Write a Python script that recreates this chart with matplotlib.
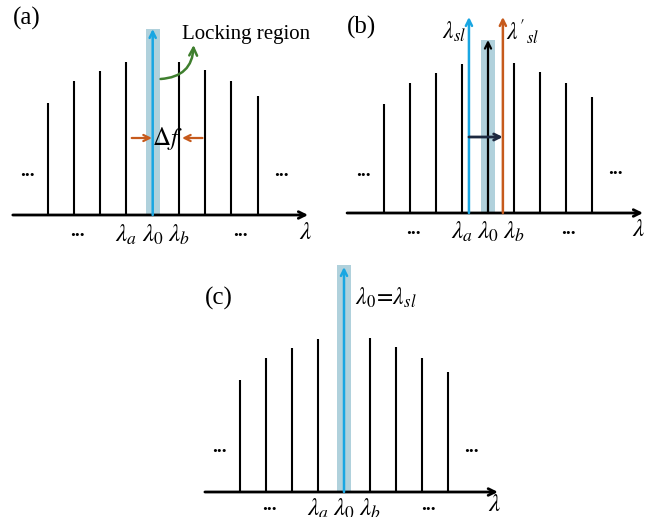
import matplotlib
matplotlib.use("Agg")
import matplotlib.pyplot as plt
from matplotlib.patches import Rectangle

plt.rcParams['font.family'] = ['Liberation Serif', 'DejaVu Serif']
plt.rcParams['mathtext.fontset'] = 'stix'

W, H = 655, 517

# ---- data (comb line index and heights, per panel) ----
comb_idx = [-4, -3, -2, -1, 1, 2, 3, 4]
heights_a = [112, 134, 144, 153, 153, 145, 134, 119]
heights_b = [109, 130, 140, 149, 150, 141, 130, 116]
heights_c = [112, 134, 144, 153, 154, 145, 134, 120]
center_height_a = 186      # blue injected line (a)
center_height_b = 173      # black slave line (b)
sl_height_b = 196          # blue / orange master lines (b)
sl_pos_b = [-0.73, 0.57]   # lambda_sl, lambda'_sl
center_height_c = 225
lock_half_width = 0.27
label_idx = [-1, 0, 1]
label_txt = [r'$\lambda_a$', r'$\lambda_0$', r'$\lambda_b$']

BLUE = '#19a6e2'
ORANGE = '#c65a1c'
GREEN = '#3f7f2e'
SHADE = '#a3c9d6'
NAVY = '#1d2940'

fig = plt.figure(figsize=(W / 100, H / 100), dpi=100)


def panel(box, center, spacing, baseline):
    x0, y0, x1, y1 = box
    ax = fig.add_axes([x0 / W, 1 - y1 / H, (x1 - x0) / W, (y1 - y0) / H])
    ax.set_xlim((x0 - center) / spacing, (x1 - center) / spacing)
    ax.set_ylim(baseline - y1, baseline - y0)
    ax.axis('off')
    return ax


def comb(ax, heights, axis_ext, dots, lab_y, lam_pos, letter, letter_pos):
    ax.annotate('', xy=(axis_ext[1], 0), xytext=(axis_ext[0], 0),
                arrowprops=dict(arrowstyle='->', lw=2.0, color='black',
                                shrinkA=0, shrinkB=0, mutation_scale=12))
    ax.vlines(comb_idx, 0, heights, color='black', lw=1.5)
    for (x, y) in dots:
        ax.text(x, y, '...', ha='center', va='center', fontsize=14,
                fontweight='bold')
    for i, t in zip(label_idx, label_txt):
        ax.text(i, lab_y, t, ha='center', va='center', fontsize=18)
    ax.text(lam_pos[0], lam_pos[1], r'$\lambda$', ha='center', va='center',
            fontsize=18)
    ax.text(letter_pos[0], letter_pos[1], letter, ha='center', va='center',
            fontsize=18)


def up_arrow(ax, x, h, color, lw=1.8):
    ax.annotate('', xy=(x, h), xytext=(x, 0),
                arrowprops=dict(arrowstyle='->', lw=lw, color=color,
                                shrinkA=0, shrinkB=0, mutation_scale=11))


# ---------------- panel (a) ----------------
axa = panel((0, 0, 327, 250), 152.7, 26.2, 215)
axa.add_patch(Rectangle((-lock_half_width, 0), 2 * lock_half_width,
                        center_height_a, color=SHADE, alpha=0.85, lw=0))
comb(axa, heights_a, (-5.34, 5.93),
     [(-4.8, 44), (4.93, 44), (-2.89, -16), (3.33, -16)],
     -20, (5.82, -18), '(a)', (-4.8, 197))
up_arrow(axa, 0, center_height_a, BLUE)
axa.text(1.12, 180, 'Locking region', ha='left', va='center', fontsize=15)
axa.annotate('', xy=(1.56, 170), xytext=(0.3, 136),
             arrowprops=dict(arrowstyle='->', lw=1.8, color=GREEN,
                             connectionstyle='arc3,rad=0.45',
                             shrinkA=0, shrinkB=0, mutation_scale=14))
axa.text(0.56, 77, r'$\Delta f$', ha='center', va='center', fontsize=18)
axa.annotate('', xy=(-0.03, 77), xytext=(-0.8, 77),
             arrowprops=dict(arrowstyle='->', lw=1.6, color=ORANGE,
                             shrinkA=0, shrinkB=0, mutation_scale=11))
axa.annotate('', xy=(1.12, 77), xytext=(1.9, 77),
             arrowprops=dict(arrowstyle='->', lw=1.6, color=ORANGE,
                             shrinkA=0, shrinkB=0, mutation_scale=11))

# ---------------- panel (b) ----------------
axb = panel((327, 0, 655, 250), 488, 26.1, 213)
axb.add_patch(Rectangle((-lock_half_width, 0), 2 * lock_half_width,
                        center_height_b, color=SHADE, alpha=0.85, lw=0))
comb(axb, heights_b, (-5.4, 5.94),
     [(-4.79, 42), (4.87, 44), (-2.87, -16), (3.07, -16)],
     -19, (5.78, -17), '(b)', (-4.83, 186))
up_arrow(axb, 0, center_height_b, 'black', lw=1.6)
up_arrow(axb, sl_pos_b[0], sl_height_b, BLUE)
up_arrow(axb, sl_pos_b[1], sl_height_b, ORANGE)
axb.annotate('', xy=(sl_pos_b[1], 76), xytext=(sl_pos_b[0], 76),
             arrowprops=dict(arrowstyle='->', lw=2.0, color=NAVY,
                             shrinkA=0, shrinkB=0, mutation_scale=11))
axb.text(sl_pos_b[0] - 0.1, 181, r'$\lambda_{sl}$', ha='right', va='center',
         fontsize=17)
axb.text(sl_pos_b[1] + 0.12, 181, r"$\lambda'_{sl}$", ha='left', va='center',
         fontsize=17)

# ---------------- panel (c) ----------------
axc = panel((190, 255, 520, 517), 344, 26.0, 492)
axc.add_patch(Rectangle((-lock_half_width, 0), 2 * lock_half_width,
                        center_height_c + 2, color=SHADE, alpha=0.85, lw=0))
comb(axc, heights_c, (-5.35, 5.92),
     [(-4.8, 45), (4.92, 45), (-2.85, -14), (3.23, -14)],
     -17, (5.8, -13), '(c)', (-4.8, 194))
up_arrow(axc, 0, center_height_c, BLUE)
axc.text(0.42, 194, r'$\lambda_0\!=\!\lambda_{sl}$', ha='left', va='center',
         fontsize=17)

fig.savefig('out.png', dpi=100)
